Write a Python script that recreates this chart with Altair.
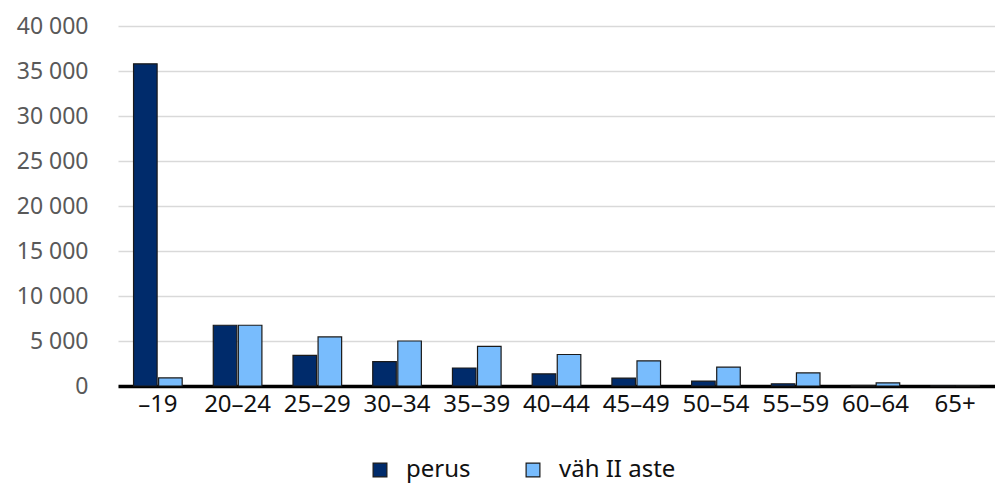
import altair as alt
import pandas as pd

categories = ["–19", "20–24", "25–29", "30–34", "35–39", "40–44", "45–49", "50–54", "55–59", "60–64", "65+"]
perus = [35800, 6750, 3400, 2700, 2000, 1350, 880, 550, 250, 60, 20]
vah_ii = [900, 6750, 5450, 5000, 4400, 3500, 2800, 2100, 1450, 350, 40]
series = ["perus", "väh II aste"]

rows = []
for c, p, v in zip(categories, perus, vah_ii):
    rows.append({"ika": c, "sarja": series[0], "arvo": p})
    rows.append({"ika": c, "sarja": series[1], "arvo": v})
df = pd.DataFrame(rows)

font = "Noto Sans"

chart = alt.Chart(df).mark_bar(stroke="#1a1a1a", strokeWidth=1.2).encode(
    x=alt.X("ika:N", sort=categories, title=None,
            scale=alt.Scale(paddingInner=0.39, paddingOuter=0.195),
            axis=alt.Axis(labelAngle=0, labelFontSize=24, labelColor="#111111", labelFont=font,
                          ticks=False, domainColor="#000000", domainWidth=3.5, labelPadding=6)),
    xOffset=alt.XOffset("sarja:N", sort=series, scale=alt.Scale(paddingInner=0.06)),
    y=alt.Y("arvo:Q", title=None,
            scale=alt.Scale(domain=[0, 40000], nice=False),
            axis=alt.Axis(values=list(range(0, 40001, 5000)), format=",d", labelExpr="replace(datum.label, ',', ' ')",
                          labelFontSize=23, labelColor="#595959", labelFont=font,
                          ticks=False, domain=False, labelPadding=30,
                          gridColor="#d9d9d9", gridWidth=1.5)),
    color=alt.Color("sarja:N", sort=series, title=None,
                    scale=alt.Scale(domain=series, range=["#002b6b", "#78bcfd"]),
                    legend=alt.Legend(orient="none", direction="horizontal", legendX=250, legendY=432,
                                      symbolType="square", symbolSize=190, symbolStrokeColor="#1a1a1a",
                                      symbolStrokeWidth=1.2, labelFontSize=24, labelFont=font,
                                      labelColor="#111111", columnPadding=50, labelOffset=14)),
).properties(
    width=877, height=360,
    autosize=alt.AutoSizeParams(type="none"),
    padding={"left": 110, "top": 18, "right": 0, "bottom": 100},
).configure_view(stroke=None)

chart.save("out.html", embed_options={"renderer": "svg", "actions": False})
